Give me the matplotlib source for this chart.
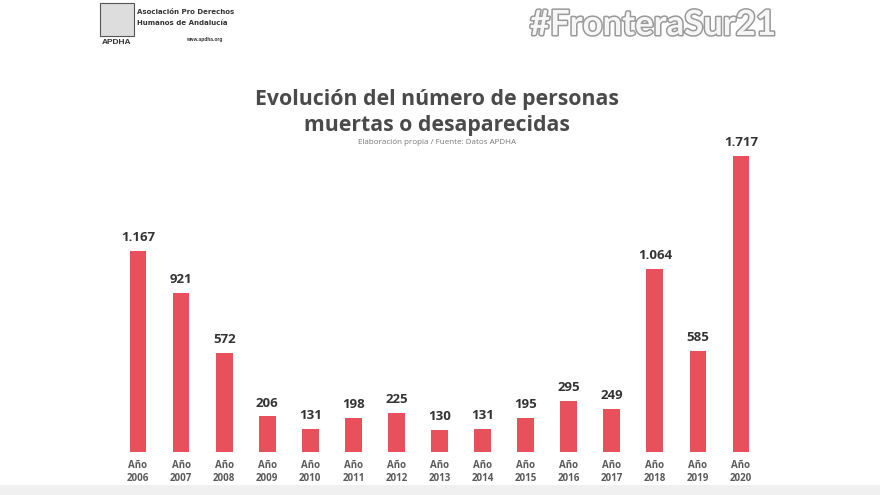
import matplotlib.pyplot as plt
import matplotlib.patheffects as pe
from matplotlib.patches import Rectangle

# Datos (APDHA, #FronteraSur21)
years = [2006, 2007, 2008, 2009, 2010, 2011, 2012, 2013, 2014, 2015, 2016, 2017, 2018, 2019, 2020]
deaths = [1167, 921, 572, 206, 131, 198, 225, 130, 131, 195, 295, 249, 1064, 585, 1717]
value_labels = ["1.167", "921", "572", "206", "131", "198", "225", "130", "131", "195",
                "295", "249", "1.064", "585", "1.717"]

BAR_COLOR = "#e8505b"
W, H = 880, 495

fig = plt.figure(figsize=(8.8, 4.95), dpi=100)
fig.patch.set_facecolor("white")

# Ejes colocados en píxeles: base de barras en y=452, barra máxima en y=156
ax = fig.add_axes([0, (H - 452) / H, 1, (452 - 156) / H])
ax.set_xlim(-138 / 43.07, (W - 138) / 43.07)
ax.set_ylim(0, max(deaths))
ax.axis("off")

x = list(range(len(years)))
ax.bar(x, deaths, width=0.39, color=BAR_COLOR)
for xi, v, lab in zip(x, deaths, value_labels):
    ax.annotate(lab, (xi, v), xytext=(0, 5), textcoords="offset points",
                ha="center", va="bottom", fontsize=9.5, fontweight="bold",
                color="#333333", family="Open Sans", annotation_clip=False)
    ax.annotate(f"Año\n{years[xi]}", (xi, 0), xytext=(0, -6), textcoords="offset points",
                ha="center", va="top", fontsize=7, fontweight="bold",
                color="#5a5a5a", family="Open Sans", linespacing=1.2,
                annotation_clip=False)

# Títulos
fig.text(437 / W, 1 - 100 / H, "Evolución del número de personas", ha="center", va="center",
         fontsize=15.3, fontweight="bold", color="#4a4a4a", family="Open Sans")
fig.text(437 / W, 1 - 125 / H, "muertas o desaparecidas", ha="center", va="center",
         fontsize=15.3, fontweight="bold", color="#4a4a4a", family="Open Sans")
fig.text(437 / W, 1 - 143 / H, "Elaboración propia / Fuente: Datos APDHA", ha="center",
         va="center", fontsize=5.8, color="#777777", family="Open Sans")

# Logo APDHA (aproximado)
fig.patches.append(Rectangle((100 / W, 1 - 36 / H), 34 / W, 33 / H, transform=fig.transFigure,
                             facecolor="#dddddd", edgecolor="#555555", lw=0.8))
fig.text(117 / W, 1 - 42 / H, "APDHA", ha="center", va="center", fontsize=6,
         fontweight="bold", color="#333333", family="Liberation Sans")
fig.text(137 / W, 1 - 12 / H, "Asociación Pro Derechos", ha="left", va="center", fontsize=5,
         color="#333333", family="Liberation Sans Narrow", fontweight="bold")
fig.text(137 / W, 1 - 23 / H, "Humanos de Andalucía", ha="left", va="center", fontsize=5,
         color="#333333", family="Liberation Sans Narrow", fontweight="bold")
fig.text(222 / W, 1 - 39 / H, "www.apdha.org", ha="right", va="center", fontsize=3.5,
         color="#333333", family="Liberation Sans", fontweight="bold")

# Hashtag
fig.text(653 / W, 1 - 25 / H, "#FronteraSur21", ha="center", va="center", fontsize=25,
         fontweight="bold", color="#f6f6f6", family="Lato",
         path_effects=[pe.withStroke(linewidth=2.2, foreground="#999999")])

# Banda gris tenue en la parte inferior
fig.patches.append(Rectangle((0, 0), 1, 10 / H, transform=fig.transFigure,
                             facecolor="#f0f0f0", edgecolor="none", zorder=-1))

fig.savefig("out.png", dpi=100, facecolor="white")
